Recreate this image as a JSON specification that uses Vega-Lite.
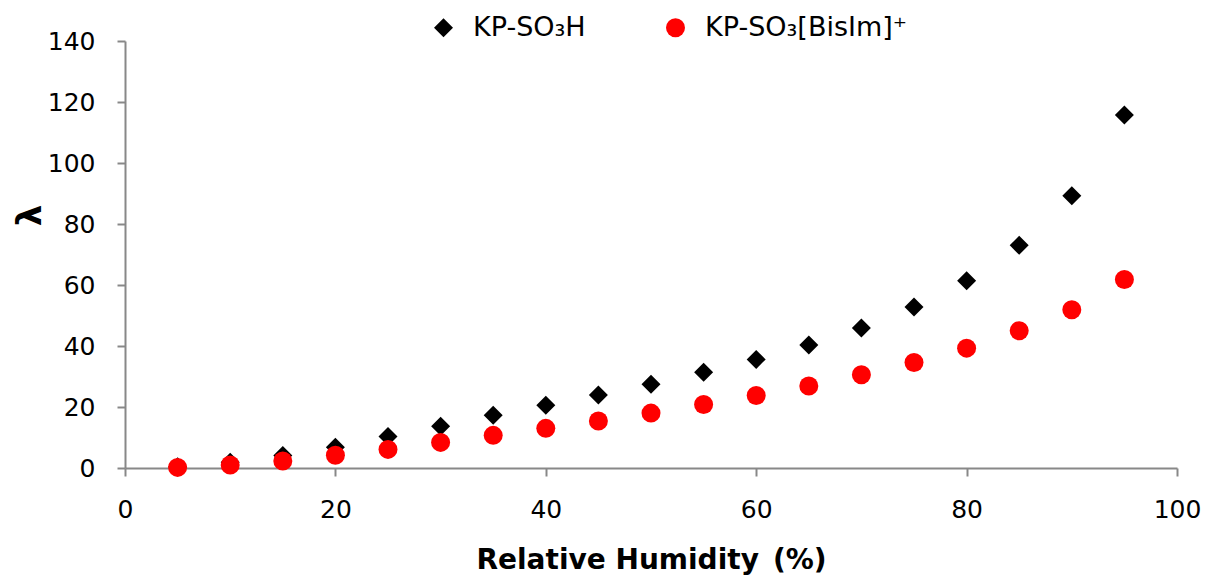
{
  "$schema": "https://vega.github.io/schema/vega-lite/v6.json",
  "autosize": "none",
  "width": 1052,
  "height": 427,
  "padding": {"left": 125, "top": 41, "right": 29, "bottom": 107},
  "background": "white",
  "config": {
    "view": {"stroke": null},
    "font": "DejaVu Sans"
  },
  "data": {
    "values": [
      {"rh": 5, "lambda": 0.4, "series": "KP-SO₃H"},
      {"rh": 10, "lambda": 1.9, "series": "KP-SO₃H"},
      {"rh": 15, "lambda": 4.1, "series": "KP-SO₃H"},
      {"rh": 20, "lambda": 6.8, "series": "KP-SO₃H"},
      {"rh": 25, "lambda": 10.3, "series": "KP-SO₃H"},
      {"rh": 30, "lambda": 13.7, "series": "KP-SO₃H"},
      {"rh": 35, "lambda": 17.3, "series": "KP-SO₃H"},
      {"rh": 40, "lambda": 20.6, "series": "KP-SO₃H"},
      {"rh": 45, "lambda": 23.9, "series": "KP-SO₃H"},
      {"rh": 50, "lambda": 27.5, "series": "KP-SO₃H"},
      {"rh": 55, "lambda": 31.4, "series": "KP-SO₃H"},
      {"rh": 60, "lambda": 35.6, "series": "KP-SO₃H"},
      {"rh": 65, "lambda": 40.3, "series": "KP-SO₃H"},
      {"rh": 70, "lambda": 45.9, "series": "KP-SO₃H"},
      {"rh": 75, "lambda": 52.8, "series": "KP-SO₃H"},
      {"rh": 80, "lambda": 61.4, "series": "KP-SO₃H"},
      {"rh": 85, "lambda": 73.0, "series": "KP-SO₃H"},
      {"rh": 90, "lambda": 89.3, "series": "KP-SO₃H"},
      {"rh": 95, "lambda": 115.7, "series": "KP-SO₃H"},
      {"rh": 5, "lambda": 0.2, "series": "KP-SO₃[BisIm]⁺"},
      {"rh": 10, "lambda": 1.0, "series": "KP-SO₃[BisIm]⁺"},
      {"rh": 15, "lambda": 2.3, "series": "KP-SO₃[BisIm]⁺"},
      {"rh": 20, "lambda": 4.2, "series": "KP-SO₃[BisIm]⁺"},
      {"rh": 25, "lambda": 6.1, "series": "KP-SO₃[BisIm]⁺"},
      {"rh": 30, "lambda": 8.4, "series": "KP-SO₃[BisIm]⁺"},
      {"rh": 35, "lambda": 10.7, "series": "KP-SO₃[BisIm]⁺"},
      {"rh": 40, "lambda": 13.0, "series": "KP-SO₃[BisIm]⁺"},
      {"rh": 45, "lambda": 15.4, "series": "KP-SO₃[BisIm]⁺"},
      {"rh": 50, "lambda": 18.0, "series": "KP-SO₃[BisIm]⁺"},
      {"rh": 55, "lambda": 20.8, "series": "KP-SO₃[BisIm]⁺"},
      {"rh": 60, "lambda": 23.8, "series": "KP-SO₃[BisIm]⁺"},
      {"rh": 65, "lambda": 26.9, "series": "KP-SO₃[BisIm]⁺"},
      {"rh": 70, "lambda": 30.6, "series": "KP-SO₃[BisIm]⁺"},
      {"rh": 75, "lambda": 34.6, "series": "KP-SO₃[BisIm]⁺"},
      {"rh": 80, "lambda": 39.3, "series": "KP-SO₃[BisIm]⁺"},
      {"rh": 85, "lambda": 45.0, "series": "KP-SO₃[BisIm]⁺"},
      {"rh": 90, "lambda": 51.9, "series": "KP-SO₃[BisIm]⁺"},
      {"rh": 95, "lambda": 61.8, "series": "KP-SO₃[BisIm]⁺"}
    ]
  },
  "mark": {"type": "point", "filled": true, "opacity": 1, "size": 361, "strokeWidth": 0},
  "encoding": {
    "x": {
      "field": "rh",
      "type": "quantitative",
      "scale": {"domain": [0, 100], "nice": false, "zero": false},
      "axis": {
        "title": "Relative Humidity\u2002(%)",
        "values": [0, 20, 40, 60, 80, 100],
        "grid": false,
        "labelFlush": false,
        "labelOverlap": false,
        "domainColor": "#888888",
        "domainWidth": 2,
        "tickColor": "#888888",
        "tickWidth": 2,
        "tickSize": 8,
        "labelFontSize": 25,
        "labelColor": "#000000",
        "labelPadding": 21,
        "labelFont": "DejaVu Sans",
        "titleFont": "DejaVu Sans",
        "titleFontSize": 28,
        "titleFontWeight": "bold",
        "titleColor": "#000000",
        "titleBaseline": "middle",
        "titleY": 92
      }
    },
    "y": {
      "field": "lambda",
      "type": "quantitative",
      "scale": {"domain": [0, 140], "nice": false},
      "axis": {
        "title": "λ",
        "values": [0, 20, 40, 60, 80, 100, 120, 140],
        "grid": false,
        "labelFlush": false,
        "labelOverlap": false,
        "domainColor": "#888888",
        "domainWidth": 2,
        "tickColor": "#888888",
        "tickWidth": 2,
        "tickSize": 8,
        "labelFontSize": 25,
        "labelColor": "#000000",
        "labelPadding": 22,
        "labelFont": "DejaVu Sans",
        "titleFont": "DejaVu Sans",
        "titleFontSize": 34,
        "titleFontWeight": "bold",
        "titleColor": "#000000",
        "titleAngle": -90,
        "titleAlign": "center",
        "titleBaseline": "middle",
        "titleX": -95,
        "titleY": 174
      }
    },
    "color": {
      "field": "series",
      "type": "nominal",
      "scale": {"domain": ["KP-SO₃H", "KP-SO₃[BisIm]⁺"], "range": ["#000000", "#ff0000"]},
      "legend": {
        "title": null,
        "orient": "none",
        "direction": "horizontal",
        "legendX": 305,
        "legendY": -27,
        "padding": 0,
        "symbolSize": 361,
        "symbolStrokeWidth": 0,
        "labelFontSize": 27,
        "labelFont": "DejaVu Sans",
        "labelColor": "#000000",
        "labelOffset": 16,
        "columnPadding": 76,
        "labelLimit": 400
      }
    },
    "shape": {
      "field": "series",
      "type": "nominal",
      "scale": {"domain": ["KP-SO₃H", "KP-SO₃[BisIm]⁺"], "range": ["diamond", "circle"]}
    }
  }
}
